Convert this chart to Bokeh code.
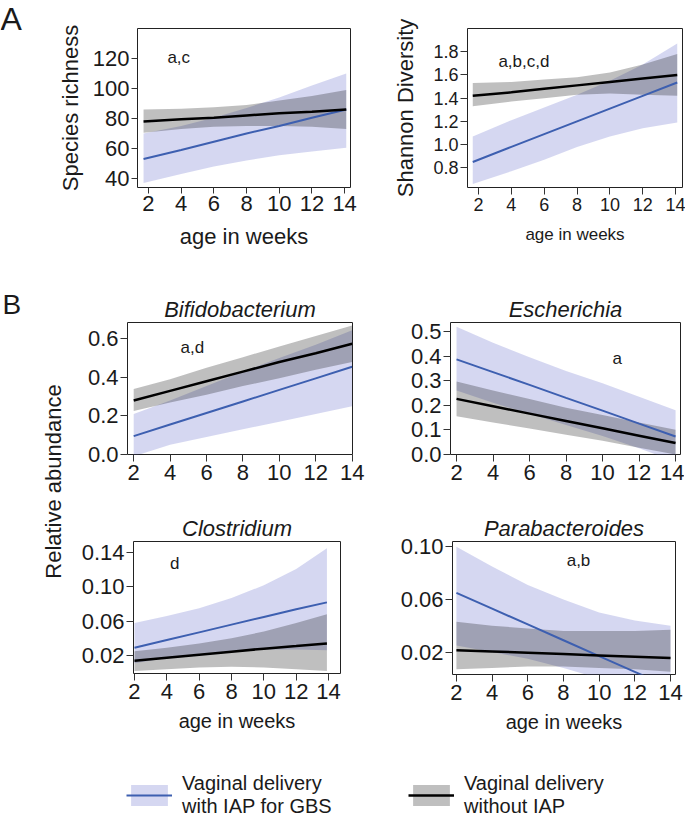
from bokeh.plotting import figure
from bokeh.models import (Range1d, FixedTicker, PrintfTickFormatter, Label, Legend,
                          LegendItem, ColumnDataSource, Plot, Title, VArea, Line)
from bokeh.layouts import row, column
from bokeh.core.properties import value
from bokeh.embed import file_html
from bokeh.resources import INLINE

# ---------------- data ----------------
x_ticks = [2, 4, 6, 8, 10, 12, 14]

# A: Species richness
rich_weeks = [1.7, 4, 6, 8, 10, 12, 14.1]
rich_iap_fit = [53, 59, 64.5, 70, 75, 80.5, 86]
rich_iap_lo = [37, 43, 48, 52, 55.5, 58, 60.5]
rich_iap_hi = [70, 75, 80.5, 87, 94, 102, 110]
rich_no_fit = [78, 79.5, 80.5, 82, 83.5, 84.5, 86]
rich_no_lo = [70.5, 73, 74.5, 75, 75, 74.5, 73]
rich_no_hi = [86, 86.5, 87.5, 89, 92, 95, 99]
rich_yticks = [40, 60, 80, 100, 120]

# A: Shannon diversity
shan_weeks = [1.65, 4, 6, 8, 10, 12, 14.1]
shan_iap_fit = [0.85, 0.98, 1.09, 1.20, 1.31, 1.42, 1.535]
shan_iap_lo = [0.66, 0.77, 0.87, 0.98, 1.07, 1.14, 1.19]
shan_iap_hi = [1.07, 1.21, 1.32, 1.43, 1.55, 1.69, 1.87]
shan_no_fit = [1.42, 1.45, 1.48, 1.51, 1.54, 1.57, 1.60]
shan_no_lo = [1.33, 1.37, 1.40, 1.43, 1.44, 1.43, 1.42]
shan_no_hi = [1.53, 1.54, 1.56, 1.58, 1.62, 1.69, 1.78]
shan_yticks = [0.8, 1.0, 1.2, 1.4, 1.6, 1.8]

# B: Bifidobacterium
bif_weeks = [2, 4, 6, 8, 10, 12, 14]
bif_iap_fit = [0.095, 0.155, 0.215, 0.275, 0.335, 0.395, 0.455]
bif_iap_lo = [-0.01, 0.05, 0.09, 0.13, 0.17, 0.21, 0.25]
bif_iap_hi = [0.21, 0.28, 0.355, 0.43, 0.50, 0.57, 0.645]
bif_no_fit = [0.28, 0.33, 0.38, 0.43, 0.48, 0.525, 0.575]
bif_no_lo = [0.225, 0.27, 0.31, 0.355, 0.395, 0.44, 0.48]
bif_no_hi = [0.34, 0.39, 0.45, 0.505, 0.56, 0.615, 0.67]
bif_yticks = [0.0, 0.2, 0.4, 0.6]

# B: Escherichia
esch_weeks = [2, 4, 6, 8, 10, 12, 14]
esch_iap_fit = [0.387, 0.335, 0.283, 0.23, 0.178, 0.125, 0.073]
esch_iap_lo = [0.26, 0.21, 0.165, 0.12, 0.075, 0.025, -0.03]
esch_iap_hi = [0.52, 0.455, 0.395, 0.34, 0.29, 0.235, 0.18]
esch_no_fit = [0.226, 0.196, 0.166, 0.136, 0.106, 0.076, 0.046]
esch_no_lo = [0.155, 0.13, 0.105, 0.08, 0.055, 0.027, 0.0]
esch_no_hi = [0.297, 0.26, 0.225, 0.19, 0.16, 0.13, 0.10]
esch_yticks = [0.0, 0.1, 0.2, 0.3, 0.4, 0.5]

# B: Clostridium
clos_weeks = [2, 4, 6, 8, 10, 12, 13.9]
clos_iap_fit = [0.029, 0.038, 0.047, 0.056, 0.065, 0.074, 0.082]
clos_iap_lo = [0.011, 0.017, 0.022, 0.025, 0.027, 0.027, 0.026]
clos_iap_hi = [0.058, 0.066, 0.075, 0.087, 0.102, 0.121, 0.145]
clos_no_fit = [0.014, 0.0175, 0.021, 0.0245, 0.028, 0.031, 0.034]
clos_no_lo = [0.002, 0.004, 0.006, 0.007, 0.006, 0.004, 0.002]
clos_no_hi = [0.025, 0.029, 0.034, 0.040, 0.048, 0.058, 0.068]
clos_yticks = [0.02, 0.06, 0.10, 0.14]

# B: Parabacteroides
para_weeks = [2, 4, 6, 8, 10, 12, 14]
para_iap_fit = [0.065, 0.053, 0.041, 0.029, 0.017, 0.005, -0.007]
para_iap_lo = [0.025, 0.02, 0.015, 0.008, 0.0, -0.01, -0.02]
para_iap_hi = [0.100, 0.085, 0.071, 0.060, 0.050, 0.044, 0.040]
para_no_fit = [0.0215, 0.0205, 0.0195, 0.0185, 0.0175, 0.0165, 0.0155]
para_no_lo = [0.007, 0.008, 0.009, 0.009, 0.008, 0.007, 0.005]
para_no_hi = [0.043, 0.040, 0.038, 0.036, 0.036, 0.036, 0.037]
para_yticks = [0.02, 0.06, 0.10]

legend_iap = "Vaginal delivery\nwith IAP for GBS"
legend_no = "Vaginal delivery\nwithout IAP"

# ---------------- style ----------------
FONT = "Liberation Sans"
INK = "#1a1a1a"
BLUE_LINE = "#3d5fb0"
BAND_BLUE = "#5c63c9"
BAND_BLUE_ALPHA = 0.26
BAND_GREY = "#000000"
BAND_GREY_ALPHA = 0.25


def panel(x, iap_fit, iap_lo, iap_hi, no_fit, no_lo, no_hi, *, xr, yr, yticks, yfmt,
          fw, fh, bl, br, bt, bb, tick_fs="22px", tick_out=7, xstd=3, ystd=2,
          xlabel=None, xlabel_fs="22px", xlstd=6, ylabel=None, ylabel_fs="22px", ylstd=7,
          title=None, title_offset=0, note=None, note_x=0, note_y=0, note_fs="17px"):
    p = figure(title=None, frame_width=fw, frame_height=fh,
               min_border_left=bl, min_border_right=br, min_border_top=bt, min_border_bottom=bb,
               x_range=Range1d(*xr), y_range=Range1d(*yr),
               toolbar_location=None, output_backend="svg",
               background_fill_color="white", border_fill_color="white")
    if title:
        p.add_layout(Title(text=title, align="center", text_font=FONT, text_font_size="22px",
                           text_font_style="italic", text_color=INK, standoff=2,
                           offset=title_offset), "above")
    p.varea(x=x, y1=iap_lo, y2=iap_hi, fill_color=BAND_BLUE, fill_alpha=BAND_BLUE_ALPHA)
    p.varea(x=x, y1=no_lo, y2=no_hi, fill_color=BAND_GREY, fill_alpha=BAND_GREY_ALPHA)
    p.line(x, iap_fit, line_color=BLUE_LINE, line_width=2)
    p.line(x, no_fit, line_color="black", line_width=2.5)

    p.xaxis.ticker = FixedTicker(ticks=x_ticks)
    p.xaxis.formatter = PrintfTickFormatter(format="%d")
    p.yaxis.ticker = FixedTicker(ticks=yticks)
    p.yaxis.formatter = PrintfTickFormatter(format=yfmt)
    for ax in (p.xaxis[0], p.yaxis[0]):
        ax.axis_line_color = None
        ax.major_tick_line_color = "#333333"
        ax.major_tick_line_width = 1
        ax.major_tick_in = 0
        ax.major_tick_out = tick_out
        ax.minor_tick_line_color = None
        ax.major_label_text_font = FONT
        ax.major_label_text_font_size = tick_fs
        ax.major_label_text_color = INK
        ax.axis_label_text_font = FONT
        ax.axis_label_text_font_style = "normal"
        ax.axis_label_text_color = INK
    p.xaxis.major_label_standoff = xstd
    p.yaxis.major_label_standoff = ystd
    if xlabel:
        p.xaxis.axis_label = xlabel
        p.xaxis.axis_label_text_font_size = xlabel_fs
        p.xaxis.axis_label_standoff = xlstd
    if ylabel:
        p.yaxis.axis_label = ylabel
        p.yaxis.axis_label_text_font_size = ylabel_fs
        p.yaxis.axis_label_standoff = ylstd
    p.xgrid.visible = False
    p.ygrid.visible = False
    p.outline_line_color = "#222222"
    p.outline_line_width = 1
    if note:
        p.add_layout(Label(x=note_x, y=note_y, text=note, text_font=FONT, text_font_size=note_fs,
                           text_baseline="middle", text_align="left", text_color=INK))
    return p


def strip(w, h):
    return Plot(width=w, height=h, x_range=Range1d(0, w), y_range=Range1d(0, h), min_border=0,
                toolbar_location=None, outline_line_color=None, output_backend="svg", title=None)


# ---------------- row A ----------------
stripA = strip(48, 262)
stripA.add_layout(Label(x=0, y=244, text="A", text_font=FONT, text_font_size="32px",
                        text_align="left", text_baseline="middle", text_color=INK))

pA1 = panel(rich_weeks, rich_iap_fit, rich_iap_lo, rich_iap_hi, rich_no_fit, rich_no_lo, rich_no_hi,
            xr=(1.33, 14.36), yr=(34, 140), yticks=rich_yticks, yfmt="%d",
            fw=213, fh=159, bl=89, br=40, bt=28, bb=75, tick_fs="22px", tick_out=6, xstd=2, ystd=2,
            xlabel="age in weeks", xlabel_fs="22px", xlstd=10,
            ylabel="Species richness", ylabel_fs="22px", ylstd=7,
            note="a,c", note_x=3.16, note_y=120.7)

pA2 = panel(shan_weeks, shan_iap_fit, shan_iap_lo, shan_iap_hi, shan_no_fit, shan_no_lo, shan_no_hi,
            xr=(1.33, 14.42), yr=(0.63, 2.0), yticks=shan_yticks, yfmt="%.1f",
            fw=215, fh=159, bl=73, br=6, bt=28, bb=75, tick_fs="18px", tick_out=7, xstd=3, ystd=2,
            xlabel="age in weeks", xlabel_fs="17px", xlstd=11,
            ylabel="Shannon Diversity", ylabel_fs="22px", ylstd=12,
            note="a,b,c,d", note_x=3.21, note_y=1.714, note_fs="17px")

# ---------------- row B ----------------
stripB = strip(68, 490)
stripB.add_layout(Label(x=2, y=448, text="B", text_font=FONT, text_font_size="28px",
                        text_align="left", text_baseline="middle", text_color=INK))
stripB.add_layout(Label(x=53, y=271, text="Relative abundance", angle=1.5708,
                        text_font=FONT, text_font_size="22px", text_align="center",
                        text_baseline="middle", text_color=INK))

pB1 = panel(bif_weeks, bif_iap_fit, bif_iap_lo, bif_iap_hi, bif_no_fit, bif_no_lo, bif_no_hi,
            xr=(1.66, 14.02), yr=(-0.0005, 0.685), yticks=bif_yticks, yfmt="%.1f",
            fw=225, fh=132, bl=59, br=43, bt=60, bb=38, title="Bifidobacterium", title_offset=-12,
            note="a,d", note_x=4.57, note_y=0.556)

pB2 = panel(esch_weeks, esch_iap_fit, esch_iap_lo, esch_iap_hi, esch_no_fit, esch_no_lo, esch_no_hi,
            xr=(1.67, 14.27), yr=(-0.0005, 0.537), yticks=esch_yticks, yfmt="%.1f",
            fw=230, fh=132, bl=55, br=4, bt=59, bb=39, title="Escherichia",
            note="a", note_x=10.55, note_y=0.39)

pB3 = panel(clos_weeks, clos_iap_fit, clos_iap_lo, clos_iap_hi, clos_no_fit, clos_no_lo, clos_no_hi,
            xr=(1.94, 14.74), yr=(-0.001, 0.153), yticks=clos_yticks, yfmt="%.2f",
            fw=207, fh=132, bl=65, br=55, bt=49, bb=79, title="Clostridium",
            xlabel="age in weeks", xlabel_fs="20px", xlstd=8,
            note="d", note_x=4.2, note_y=0.127)

pB4 = panel(para_weeks, para_iap_fit, para_iap_lo, para_iap_hi, para_no_fit, para_no_lo, para_no_hi,
            xr=(1.78, 14.28), yr=(0.003, 0.104), yticks=para_yticks, yfmt="%.2f",
            fw=223, fh=133, bl=57, br=9, bt=46, bb=81, title="Parabacteroides",
            xlabel="age in weeks", xlabel_fs="20px", xlstd=8,
            note="a,b", note_x=8.18, note_y=0.0894)

# ---------------- legend ----------------
# legend keys use the real series as sources; they sit outside this strip's range, so only
# the legend swatches are visible.
leg_plot = Plot(width=684, height=66, x_range=Range1d(0, 1), y_range=Range1d(0, 1), min_border=0,
                toolbar_location=None, outline_line_color=None, output_backend="svg", title=None)
src_iap = ColumnDataSource(dict(x=rich_weeks, y1=rich_iap_lo, y2=rich_iap_hi, y=rich_iap_fit))
src_no = ColumnDataSource(dict(x=rich_weeks, y1=rich_no_lo, y2=rich_no_hi, y=rich_no_fit))
rb_band = leg_plot.add_glyph(src_iap, VArea(x="x", y1="y1", y2="y2", fill_color=BAND_BLUE,
                                            fill_alpha=BAND_BLUE_ALPHA))
rb_line = leg_plot.add_glyph(src_iap, Line(x="x", y="y", line_color=BLUE_LINE, line_width=2))
rg_band = leg_plot.add_glyph(src_no, VArea(x="x", y1="y1", y2="y2", fill_color=BAND_GREY,
                                           fill_alpha=BAND_GREY_ALPHA))
rg_line = leg_plot.add_glyph(src_no, Line(x="x", y="y", line_color="black", line_width=2.5))


def make_legend(label, rends, loc):
    return Legend(items=[LegendItem(label=value(label), renderers=rends)], location=loc,
                  glyph_width=46, glyph_height=26, label_standoff=10, padding=0, margin=0,
                  spacing=0, border_line_color=None, background_fill_alpha=0,
                  label_text_font=FONT, label_text_font_size="20px", label_text_color=INK,
                  label_text_line_height=1.1)


leg_plot.add_layout(make_legend(legend_iap, [rb_band, rb_line], (126, 0)))
leg_plot.add_layout(make_legend(legend_no, [rg_band, rg_line], (408, 0)))

layout = column(
    row(stripA, row(pA1, pA2)),
    row(stripB, column(row(pB1, pB2), row(pB3, pB4))),
    leg_plot,
)

open("out.html", "w").write(file_html(layout, INLINE))
